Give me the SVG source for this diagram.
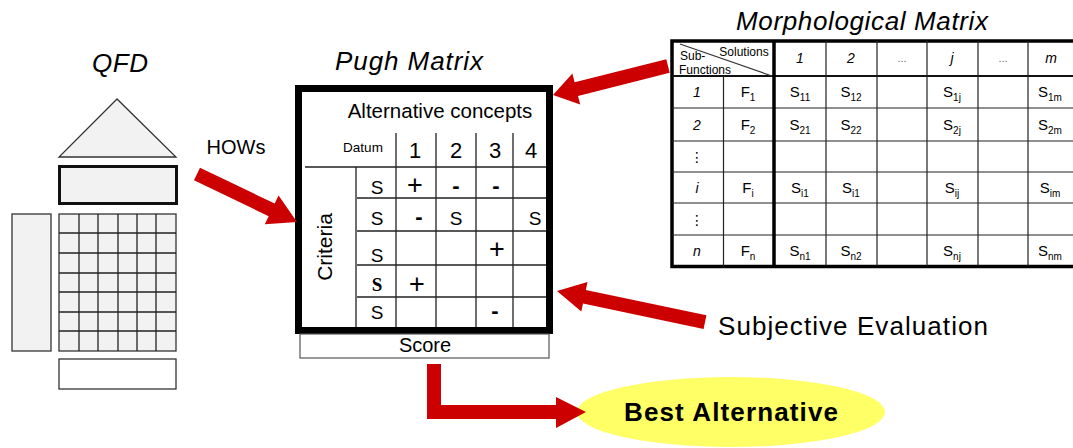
<svg xmlns="http://www.w3.org/2000/svg" width="1073" height="448" viewBox="0 0 1073 448">
<style>
text{font-family:"Liberation Sans",Arial,sans-serif;fill:#000}
.title{font-size:26px;font-style:italic}
.q{fill:#f2f2f2;stroke:#333;stroke-width:1.3}
.thin{stroke:#222;stroke-width:1.3;fill:none}
.mt{stroke:#222;stroke-width:1.2;fill:none}
.arrow{fill:#cc0000}
.s{font-size:19px;text-anchor:middle}
.plus{font-size:27px;text-anchor:middle}
.minus{font-size:22px;font-weight:bold;text-anchor:middle}
.num{font-size:22px;text-anchor:middle}
.m{font-size:15px;text-anchor:middle}
.mi{font-size:14px;font-style:italic;text-anchor:middle}
.sub{font-size:10px}
.dots{font-size:11px;fill:#666;text-anchor:middle}
</style>
<rect width="1073" height="448" fill="#fff"/>

<g id="qfd">
<text class="title" x="120" y="72" text-anchor="middle" textLength="56" lengthAdjust="spacing">QFD</text>
<polygon class="q" points="117,99 59,157 176,157"/>
<rect x="59.5" y="166.5" width="117" height="37" fill="#f2f2f2" stroke="#111" stroke-width="3"/>
<rect class="q" x="12" y="214" width="39" height="137"/>
<rect class="q" x="59" y="214" width="117" height="137"/>
<path class="thin" d="M79 214V351M98 214V351M118 214V351M137 214V351M156 214V351M59 233H176M59 253H176M59 273H176M59 292H176M59 312H176M59 331H176"/>
<rect x="59" y="359" width="117" height="30" fill="#fff" stroke="#333" stroke-width="1.3"/>
</g>

<g id="pugh">
<text class="title" x="409" y="70" text-anchor="middle" textLength="148" lengthAdjust="spacing">Pugh Matrix</text>
<rect x="298.5" y="88.5" width="251" height="242" fill="#fff" stroke="#000" stroke-width="7"/>
<text x="440" y="118" font-size="20.5" text-anchor="middle">Alternative concepts</text>
<text x="363" y="152" font-size="13.5" text-anchor="middle">Datum</text>
<text class="num" x="415" y="158">1</text>
<text class="num" x="456" y="158">2</text>
<text class="num" x="495" y="158">3</text>
<text class="num" x="531" y="158">4</text>
<path class="thin" d="M396 133V327M436 133V327M476 133V327M513 133V327M305 167H546M356 167V327M357 198H546M357 231H546M357 265H546M357 297H546"/>
<text font-size="21" text-anchor="middle" transform="translate(325,247) rotate(-90)" y="7">Criteria</text>
<text class="s" x="377" y="194">S</text>
<text class="s" x="377" y="225">S</text>
<text class="s" x="377" y="262">S</text>
<text x="377" y="291" font-size="19" font-weight="bold" text-anchor="middle" style="font-family:'Liberation Serif',serif">S</text>
<text class="s" x="377" y="319">S</text>
<text class="plus" x="415" y="194">+</text>
<text class="minus" x="456" y="193">-</text>
<text class="minus" x="496" y="193">-</text>
<text class="minus" x="419" y="224">-</text>
<text class="s" x="456" y="225">S</text>
<text class="s" x="535" y="225">S</text>
<text class="plus" x="497" y="258">+</text>
<text class="plus" x="417" y="293">+</text>
<text class="minus" x="495" y="318">-</text>
<rect x="300" y="334" width="249" height="24" fill="#fff" stroke="#555" stroke-width="1.2"/>
<text x="425" y="352" font-size="20" text-anchor="middle">Score</text>
</g>

<g id="morph">
<text class="title" x="862" y="30" text-anchor="middle" textLength="252" lengthAdjust="spacing">Morphological Matrix</text>
<rect x="672" y="41" width="403" height="225.5" fill="#fff" stroke="#000" stroke-width="3.5"/>
<path d="M672 76H1075" stroke="#111" stroke-width="2"/>
<path class="mt" d="M672 108H1075M672 141H1075M672 172H1075M672 203H1075M672 235H1075M723.5 76V266M826 41V266M877 41V266M927 41V266M978 41V266M1028 41V266"/>
<path d="M774 41V266" stroke="#000" stroke-width="3.5"/>
<path d="M680 44L772 76" stroke="#333" stroke-width="1.2"/>
<text x="744" y="56" font-size="12" text-anchor="middle">Solutions</text>
<text x="680" y="60" font-size="12">Sub-</text>
<text x="679" y="74" font-size="12">Functions</text>
<text class="mi" x="800" y="63">1</text>
<text class="mi" x="851" y="63">2</text>
<text class="dots" x="902" y="62">...</text>
<text class="mi" x="952" y="63">j</text>
<text class="dots" x="1003" y="62">...</text>
<text class="mi" x="1051" y="63">m</text>
<text class="mi" x="697" y="97">1</text>
<text class="m" x="748" y="97">F<tspan class="sub" dy="4">1</tspan></text>
<text class="m" x="800" y="97">S<tspan class="sub" dy="4">11</tspan></text>
<text class="m" x="851" y="97">S<tspan class="sub" dy="4">12</tspan></text>
<text class="m" x="952" y="97">S<tspan class="sub" dy="4">1j</tspan></text>
<text class="m" x="1050" y="97">S<tspan class="sub" dy="4">1m</tspan></text>
<text class="mi" x="697" y="130">2</text>
<text class="m" x="748" y="130">F<tspan class="sub" dy="4">2</tspan></text>
<text class="m" x="800" y="130">S<tspan class="sub" dy="4">21</tspan></text>
<text class="m" x="851" y="130">S<tspan class="sub" dy="4">22</tspan></text>
<text class="m" x="952" y="130">S<tspan class="sub" dy="4">2j</tspan></text>
<text class="m" x="1050" y="130">S<tspan class="sub" dy="4">2m</tspan></text>
<text x="697" y="162" font-size="14" text-anchor="middle" style="font-family:'DejaVu Sans',sans-serif">⋮</text>
<text class="mi" x="697" y="193">i</text>
<text class="m" x="748" y="193">F<tspan class="sub" dy="4">i</tspan></text>
<text class="m" x="800" y="193">S<tspan class="sub" dy="4">i1</tspan></text>
<text class="m" x="851" y="193">S<tspan class="sub" dy="4">i1</tspan></text>
<text class="m" x="952" y="193">S<tspan class="sub" dy="4">ij</tspan></text>
<text class="m" x="1050" y="193">S<tspan class="sub" dy="4">im</tspan></text>
<text x="697" y="225" font-size="14" text-anchor="middle" style="font-family:'DejaVu Sans',sans-serif">⋮</text>
<text class="mi" x="697" y="256">n</text>
<text class="m" x="748" y="256">F<tspan class="sub" dy="4">n</tspan></text>
<text class="m" x="800" y="256">S<tspan class="sub" dy="4">n1</tspan></text>
<text class="m" x="851" y="256">S<tspan class="sub" dy="4">n2</tspan></text>
<text class="m" x="952" y="256">S<tspan class="sub" dy="4">nj</tspan></text>
<text class="m" x="1050" y="256">S<tspan class="sub" dy="4">nm</tspan></text>
</g>

<g id="best">
<ellipse cx="731" cy="412" rx="154" ry="35" fill="#ffff66"/>
<text x="731" y="421" font-size="26" font-weight="bold" text-anchor="middle" textLength="214" lengthAdjust="spacing">Best Alternative</text>
</g>

<g id="labels">
<text x="236" y="154" font-size="20" text-anchor="middle">HOWs</text>
<text x="718" y="335" font-size="26" textLength="270" lengthAdjust="spacing">Subjective Evaluation</text>
</g>

<g id="connectors">
<polygon class="arrow" points="200,167.7 274.7,203.6 278.6,195.5 297,222 264.8,224.3 268.7,216.2 194,180.3"/>
<polygon class="arrow" points="666.3,59.2 574.6,82.3 572.4,73.6 553,95 580.2,104.6 578,95.9 669.7,72.8"/>
<polygon class="arrow" points="706.4,315.2 585.8,289.9 587.5,282 557,291 581.3,311.4 583,303.6 703.6,328.9"/>
<polygon class="arrow" points="427,364 441,364 441,405 556,405 556,397 586,412 556,428 556,419 427,419"/>
</g>
</svg>
